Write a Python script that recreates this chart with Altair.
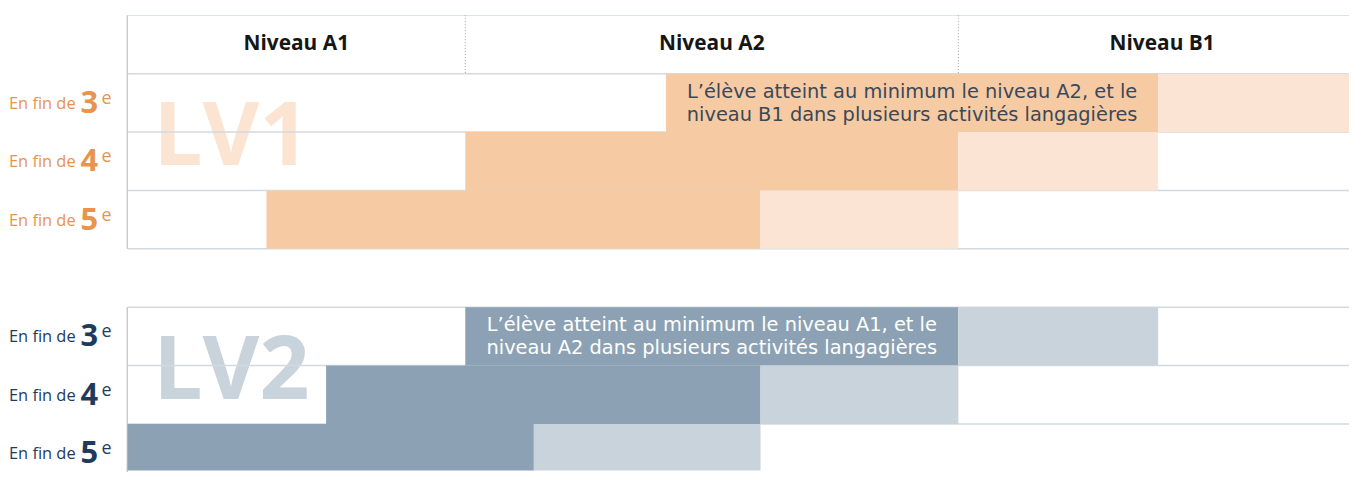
import altair as alt
import pandas as pd

# ---- data (x in column units, y in row units) ----
levels = ["Niveau A1", "Niveau A2", "Niveau B1"]
level_start = [0, 340, 836]
level_end = [340, 836, 1246]

bar_group = ["LV1"] * 6 + ["LV2"] * 6
bar_row = [1, 1, 2, 2, 3, 3, 5, 5, 6, 6, 7, 7]
bar_tone = ["fort", "clair"] * 6
bar_start = [542, 1037, 340, 836, 140, 637, 340, 836, 200, 637, 0, 409]
bar_end = [1037, 1246, 836, 1037, 637, 836, 836, 1037, 637, 836, 409, 637]

row_group = ["LV1"] * 3 + ["LV2"] * 3
row_pos = [1, 2, 3, 5, 6, 7]
row_grade = ["3", "4", "5", "3", "4", "5"]

note_group = ["LV1", "LV2"]
note_row = [1, 5]
note_start = [542, 340]
note_end = [1037, 836]
note_text = [
    "L’élève atteint au minimum le niveau A2, et le\nniveau B1 dans plusieurs activités langagières",
    "L’élève atteint au minimum le niveau A1, et le\nniveau A2 dans plusieurs activités langagières",
]

hline_y = [0, 1, 2, 3, 4, 5, 6, 7]
vborder_y1 = [0, 5]
vborder_y2 = [4, 8]

wm_text = ["LV1", "LV2"]
wm_x = [26, 26]
wm_y = [2.571, 6.574]

# ---- tables ----
bars = pd.DataFrame({"group": bar_group, "row": bar_row, "tone": bar_tone,
                     "start": bar_start, "end": bar_end})
bars["key"] = bars["group"] + "-" + bars["tone"]
bars["row2"] = bars["row"] + 1

rows = pd.DataFrame({"group": row_group, "row": row_pos, "grade": row_grade})
rows["mid"] = rows["row"] + 0.5
rows["pre"] = "En fin de"
rows["sup"] = "e"

notes = pd.DataFrame({"group": note_group, "row": note_row, "text": note_text,
                      "start": note_start, "end": note_end})
notes["mid"] = notes["row"] + 0.5
notes["cx"] = (notes["start"] + notes["end"]) / 2

lev = pd.DataFrame({"level": levels, "start": level_start, "end": level_end})
lev["cx"] = (lev["start"] + lev["end"]) / 2
lev["y"] = 0.5
seps = pd.DataFrame({"x": level_start[1:], "y1": [0, 0], "y2": [1, 1]})

hl = pd.DataFrame({"y": hline_y, "x1": [0] * len(hline_y), "x2": [1246] * len(hline_y)})
vb = pd.DataFrame({"x": [0, 0], "y1": vborder_y1, "y2": vborder_y2})
wm = pd.DataFrame({"text": wm_text, "x": wm_x, "y": wm_y})

W, H = 1229, 458
xs = alt.Scale(domain=[0, 1229], nice=False, zero=False)
ys = alt.Scale(domain=[0, 7.8], nice=False, zero=False, reverse=True)

FONT = "Open Sans"
grid_col = "#d3dadf"

watermark = alt.Chart(wm).mark_text(
    font=FONT, fontWeight="bold", fontSize=88, align="left", baseline="alphabetic"
).encode(
    x=alt.X("x:Q", scale=xs, axis=None),
    y=alt.Y("y:Q", scale=ys, axis=None),
    text="text:N",
    color=alt.Color("text:N", scale=alt.Scale(domain=["LV1", "LV2"], range=["#fce4d3", "#c9d3dc"]), legend=None),
)

hrules = alt.Chart(hl).mark_rule(color=grid_col, strokeWidth=1.5, clip=True).encode(
    x=alt.X("x1:Q", scale=xs, axis=None), x2="x2:Q",
    y=alt.Y("y:Q", scale=ys, axis=None),
)
vrules = alt.Chart(vb).mark_rule(color="#c3ccd2", strokeWidth=1.5).encode(
    x=alt.X("x:Q", scale=xs, axis=None),
    y=alt.Y("y1:Q", scale=ys, axis=None), y2="y2:Q",
)

rects = alt.Chart(bars).mark_rect(clip=True).encode(
    x=alt.X("start:Q", scale=xs, axis=None), x2="end:Q",
    y=alt.Y("row:Q", scale=ys, axis=None), y2="row2:Q",
    color=alt.Color("key:N", legend=None, scale=alt.Scale(
        domain=["LV1-fort", "LV1-clair", "LV2-fort", "LV2-clair"],
        range=["#f6cba4", "#fbe4d4", "#8ca2b4", "#c9d3dc"])),
)

note_marks = alt.Chart(notes).mark_text(
    font="DejaVu Sans", fontSize=19.5, lineBreak="\n", lineHeight=23, align="center",
    baseline="middle", dy=-11
).encode(
    x=alt.X("cx:Q", scale=xs, axis=None),
    y=alt.Y("mid:Q", scale=ys, axis=None),
    text="text:N",
    color=alt.Color("group:N", legend=None, scale=alt.Scale(domain=["LV1", "LV2"], range=["#3a4859", "#ffffff"])),
)

header = alt.Chart(lev).mark_text(
    font=FONT, fontWeight="bold", fontSize=21, color="#161616", align="center", baseline="middle"
).encode(
    x=alt.X("cx:Q", scale=xs, axis=None),
    y=alt.Y("y:Q", scale=ys, axis=None),
    text="level:N",
)

sep_marks = alt.Chart(seps).mark_rule(color="#9aa3a8", strokeWidth=1, strokeDash=[1, 2]).encode(
    x=alt.X("x:Q", scale=xs, axis=None),
    y=alt.Y("y1:Q", scale=ys, axis=None), y2="y2:Q",
)

lab_color = alt.Color("group:N", legend=None, scale=alt.Scale(domain=["LV1", "LV2"], range=["#e8934e", "#1e3b5e"]))

lab_pre = alt.Chart(rows).mark_text(
    font=FONT, fontSize=16.5, align="right", baseline="alphabetic", dy=6
).encode(x=alt.value(-52), y=alt.Y("mid:Q", scale=ys, axis=None), text="pre:N", color=lab_color)

lab_num = alt.Chart(rows).mark_text(
    font=FONT, fontWeight="bold", fontSize=31, align="left", baseline="alphabetic", dy=10
).encode(x=alt.value(-47), y=alt.Y("mid:Q", scale=ys, axis=None), text="grade:N", color=lab_color)

lab_sup = alt.Chart(rows).mark_text(
    font=FONT, fontSize=18, align="left", baseline="alphabetic", dy=1
).encode(x=alt.value(-26), y=alt.Y("mid:Q", scale=ys, axis=None), text="sup:N", color=lab_color)

chart = alt.layer(
    watermark, hrules, vrules, rects, note_marks, header, sep_marks, lab_pre, lab_num, lab_sup
).resolve_scale(color="independent").properties(
    width=W, height=H,
    autosize=alt.AutoSizeParams(type="none"),
    padding={"left": 120, "top": 6, "right": 0, "bottom": 0},
    background="white",
).configure_view(stroke=None)

chart.save("out.html", embed_options={"renderer": "svg", "actions": False})
